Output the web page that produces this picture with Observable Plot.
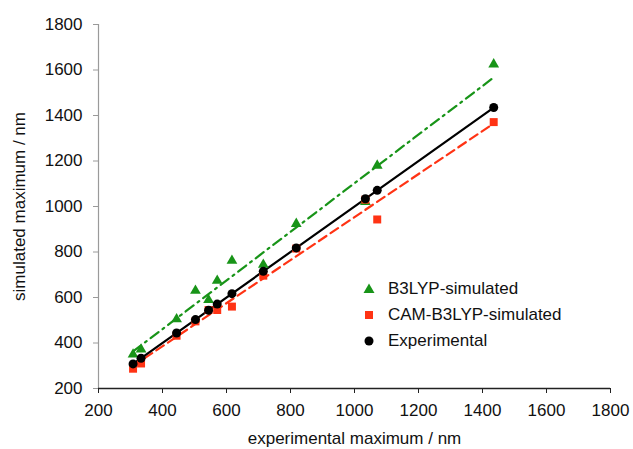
<!DOCTYPE html>
<html>
<head>
<meta charset="utf-8">
<script src="https://cdn.jsdelivr.net/npm/d3@7"></script>
<script src="https://cdn.jsdelivr.net/npm/@observablehq/plot@0.6"></script>
<style>
  html, body { margin: 0; padding: 0; background: #fff; }
  #wrap { position: relative; width: 633px; height: 449px; font-family: "Liberation Sans", Arial, Helvetica, sans-serif; }
  #legend { position: absolute; left: 360px; top: 276px; font-size: 17px; color: #111; line-height: 26px; }
  #legend div { display: flex; align-items: center; height: 26px; }
  #legend svg { width: 18px; height: 18px; margin-right: 10px; }
</style>
</head>
<body>
<div id="wrap"><div id="legend"></div></div>
<script>
// ---- data ----
const experimental = [308, 333, 444, 503, 544, 571, 617, 715, 818, 1034, 1071, 1435];
const b3lypSimulated = [350, 372, 505, 630, 589, 674, 762, 744, 924, 1020, 1180, 1625];
const camB3lypSimulated = [287, 310, 432, 495, 545, 545, 560, 696, 815, 1030, 943, 1371];
const xTicks = [200, 400, 600, 800, 1000, 1200, 1400, 1600, 1800];
const yTicks = [200, 400, 600, 800, 1000, 1200, 1400, 1600, 1800];
const seriesNames = ["B3LYP-simulated", "CAM-B3LYP-simulated", "Experimental"];

const green = "#189418";
const red = "#ff3314";
const black = "#000000";

const rows = experimental.map((x, i) => ({x, exp: x, b3: b3lypSimulated[i], cam: camB3lypSimulated[i]}));

const chart = Plot.plot({
  width: 633,
  height: 449,
  marginLeft: 98,
  marginRight: 23,
  marginTop: 24,
  marginBottom: 61,
  style: {fontFamily: '"Liberation Sans", Arial, Helvetica, sans-serif', fontSize: "17px", color: "#111", background: "#fff"},
  x: {domain: [xTicks[0], xTicks[xTicks.length - 1]]},
  y: {domain: [yTicks[0], yTicks[yTicks.length - 1]]},
  marks: [
    Plot.ruleX([xTicks[0]], {stroke: "#9a9a9a", strokeWidth: 1.2}),
    Plot.axisY({ticks: yTicks, tickFormat: d3.format("d"), tickSize: 5, tickPadding: 11, stroke: "#9a9a9a", fill: "#111",
      label: "simulated maximum / nm", labelAnchor: "center", labelArrow: false, labelOffset: 86}),
    Plot.axisX({ticks: xTicks, tickFormat: d3.format("d"), tickSize: 5, tickPadding: 10, stroke: "#222", fill: "#111",
      label: "experimental maximum / nm", labelAnchor: "center", labelArrow: false, labelOffset: 55}),
    Plot.ruleY([yTicks[0]], {stroke: "#222", strokeWidth: 1.5}),
    Plot.linearRegressionY(rows, {x: "x", y: "b3", stroke: green, strokeWidth: 2.2, strokeDasharray: "10,5,2,5", ci: 0}),
    Plot.linearRegressionY(rows, {x: "x", y: "cam", stroke: red, strokeWidth: 2.2, strokeDasharray: "9,5", ci: 0}),
    Plot.linearRegressionY(rows, {x: "x", y: "exp", stroke: black, strokeWidth: 2.2, ci: 0}),
    Plot.dot(rows, {x: "x", y: "b3", symbol: "triangle", fill: green, r: 4}),
    Plot.dot(rows, {x: "x", y: "cam", symbol: "square", fill: red, r: 4.5}),
    Plot.dot(rows, {x: "x", y: "exp", symbol: "circle", fill: black, r: 4.5})
  ]
});
document.getElementById("wrap").prepend(chart);

const legendSymbols = [
  `<polygon points="9,3.5 14.5,13 3.5,13" fill="${green}"/>`,
  `<rect x="5" y="5" width="8" height="8" fill="${red}"/>`,
  `<circle cx="9" cy="9" r="4.5" fill="${black}"/>`
];
document.getElementById("legend").innerHTML = seriesNames.map((n, i) =>
  `<div><svg viewBox="0 0 18 18">${legendSymbols[i]}</svg><span>${n}</span></div>`).join("");
</script>
</body>
</html>
